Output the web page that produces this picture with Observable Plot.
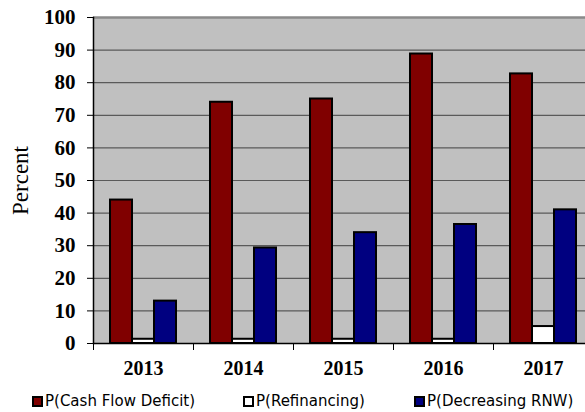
<!DOCTYPE html>
<html><head><meta charset="utf-8">
<script src="https://cdn.jsdelivr.net/npm/d3@7"></script>
<script src="https://cdn.jsdelivr.net/npm/@observablehq/plot@0.6"></script>
<style>
html,body{margin:0;padding:0;background:#fff;}
body{width:585px;height:412px;overflow:hidden;position:relative;}
#chart{position:absolute;left:0;top:0;}
.item{position:absolute;top:392px;display:flex;align-items:center;font-family:"DejaVu Sans";font-size:15px;color:#000;white-space:nowrap;line-height:18px;}
.sw{width:7px;height:7px;border:2px solid #000;margin-right:2px;}
</style></head><body>
<div id="chart"></div>
<div id="legend"></div>
<script>
const years = ["2013", "2014", "2015", "2016", "2017"];
const seriesNames = ["P(Cash Flow Deficit)", "P(Refinancing)", "P(Decreasing RNW)"];
const cashFlowDeficit = [44, 74, 75, 88.8, 82.7];
const refinancing = [1.3, 1.3, 1.3, 1.3, 5.2];
const decreasingRNW = [13, 29.3, 34, 36.5, 41];
const seriesColors = ["#800000", "#FFFFFF", "#000080"];
const yTicks = [0, 10, 20, 30, 40, 50, 60, 70, 80, 90, 100];
const legendLeft = [32, 243, 414];

const data = years.flatMap((year, i) => [
  {year, series: seriesNames[0], value: cashFlowDeficit[i]},
  {year, series: seriesNames[1], value: refinancing[i]},
  {year, series: seriesNames[2], value: decreasingRNW[i]}
]);

const width = 594, height = 385, marginTop = 17, marginBottom = 42, marginLeft = 91, marginRight = 0;
const plotHeight = height - marginTop - marginBottom;
const serif = "Liberation Serif, Times New Roman, serif";

const chart = Plot.plot({
  width, height, marginTop, marginBottom, marginLeft, marginRight,
  style: {maxWidth: "none", overflow: "hidden", background: "white"},
  fx: {domain: years, padding: 0, label: null},
  x: {domain: seriesNames, paddingInner: 0, paddingOuter: 0.69, axis: null},
  y: {domain: [0, 100], label: null},
  color: {domain: seriesNames, range: seriesColors},
  marks: [
    Plot.frame({facet: "super", fill: "#C0C0C0", stroke: null}),
    Plot.ruleY(yTicks.filter(t => t > 0 && t < 100), {stroke: "#5a5a5a", strokeWidth: 1.2}),
    Plot.ruleY([100], {stroke: "#8a8a8a", strokeWidth: 2.5}),
    Plot.barY(data, {fx: "year", x: "series", y: "value", fill: "series", stroke: "#000", strokeWidth: 2}),
    Plot.ruleY([0], {stroke: "#000", strokeWidth: 1.5}),
    Plot.frame({facet: "super", anchor: "left", stroke: "#000", strokeWidth: 1.5}),
    Plot.frame({anchor: "left", insetTop: plotHeight, insetBottom: -6, stroke: "#000", strokeWidth: 1}),
    Plot.axisY({ticks: yTicks, tickSize: 6, tickPadding: 12, fontSize: 21, fontWeight: "bold", fontFamily: serif, label: null, stroke: "#000", fill: "#000"}),
    Plot.axisY({ticks: [], tickSize: 0, label: "Percent", labelAnchor: "center", labelArrow: false, labelOffset: 82, fontSize: 23, fontFamily: serif, fill: "#000"}),
    Plot.axisFx({anchor: "bottom", tickSize: 0, tickPadding: 17, fontSize: 20, fontWeight: "bold", fontFamily: serif, label: null, fill: "#000"})
  ]
});
document.getElementById("chart").appendChild(chart);

const legend = document.getElementById("legend");
seriesNames.forEach((name, i) => {
  const item = document.createElement("div");
  item.className = "item";
  item.style.left = legendLeft[i] + "px";
  const sw = document.createElement("span");
  sw.className = "sw";
  sw.style.background = seriesColors[i];
  const label = document.createElement("span");
  label.textContent = name;
  item.appendChild(sw);
  item.appendChild(label);
  legend.appendChild(item);
});
</script>
</body></html>
